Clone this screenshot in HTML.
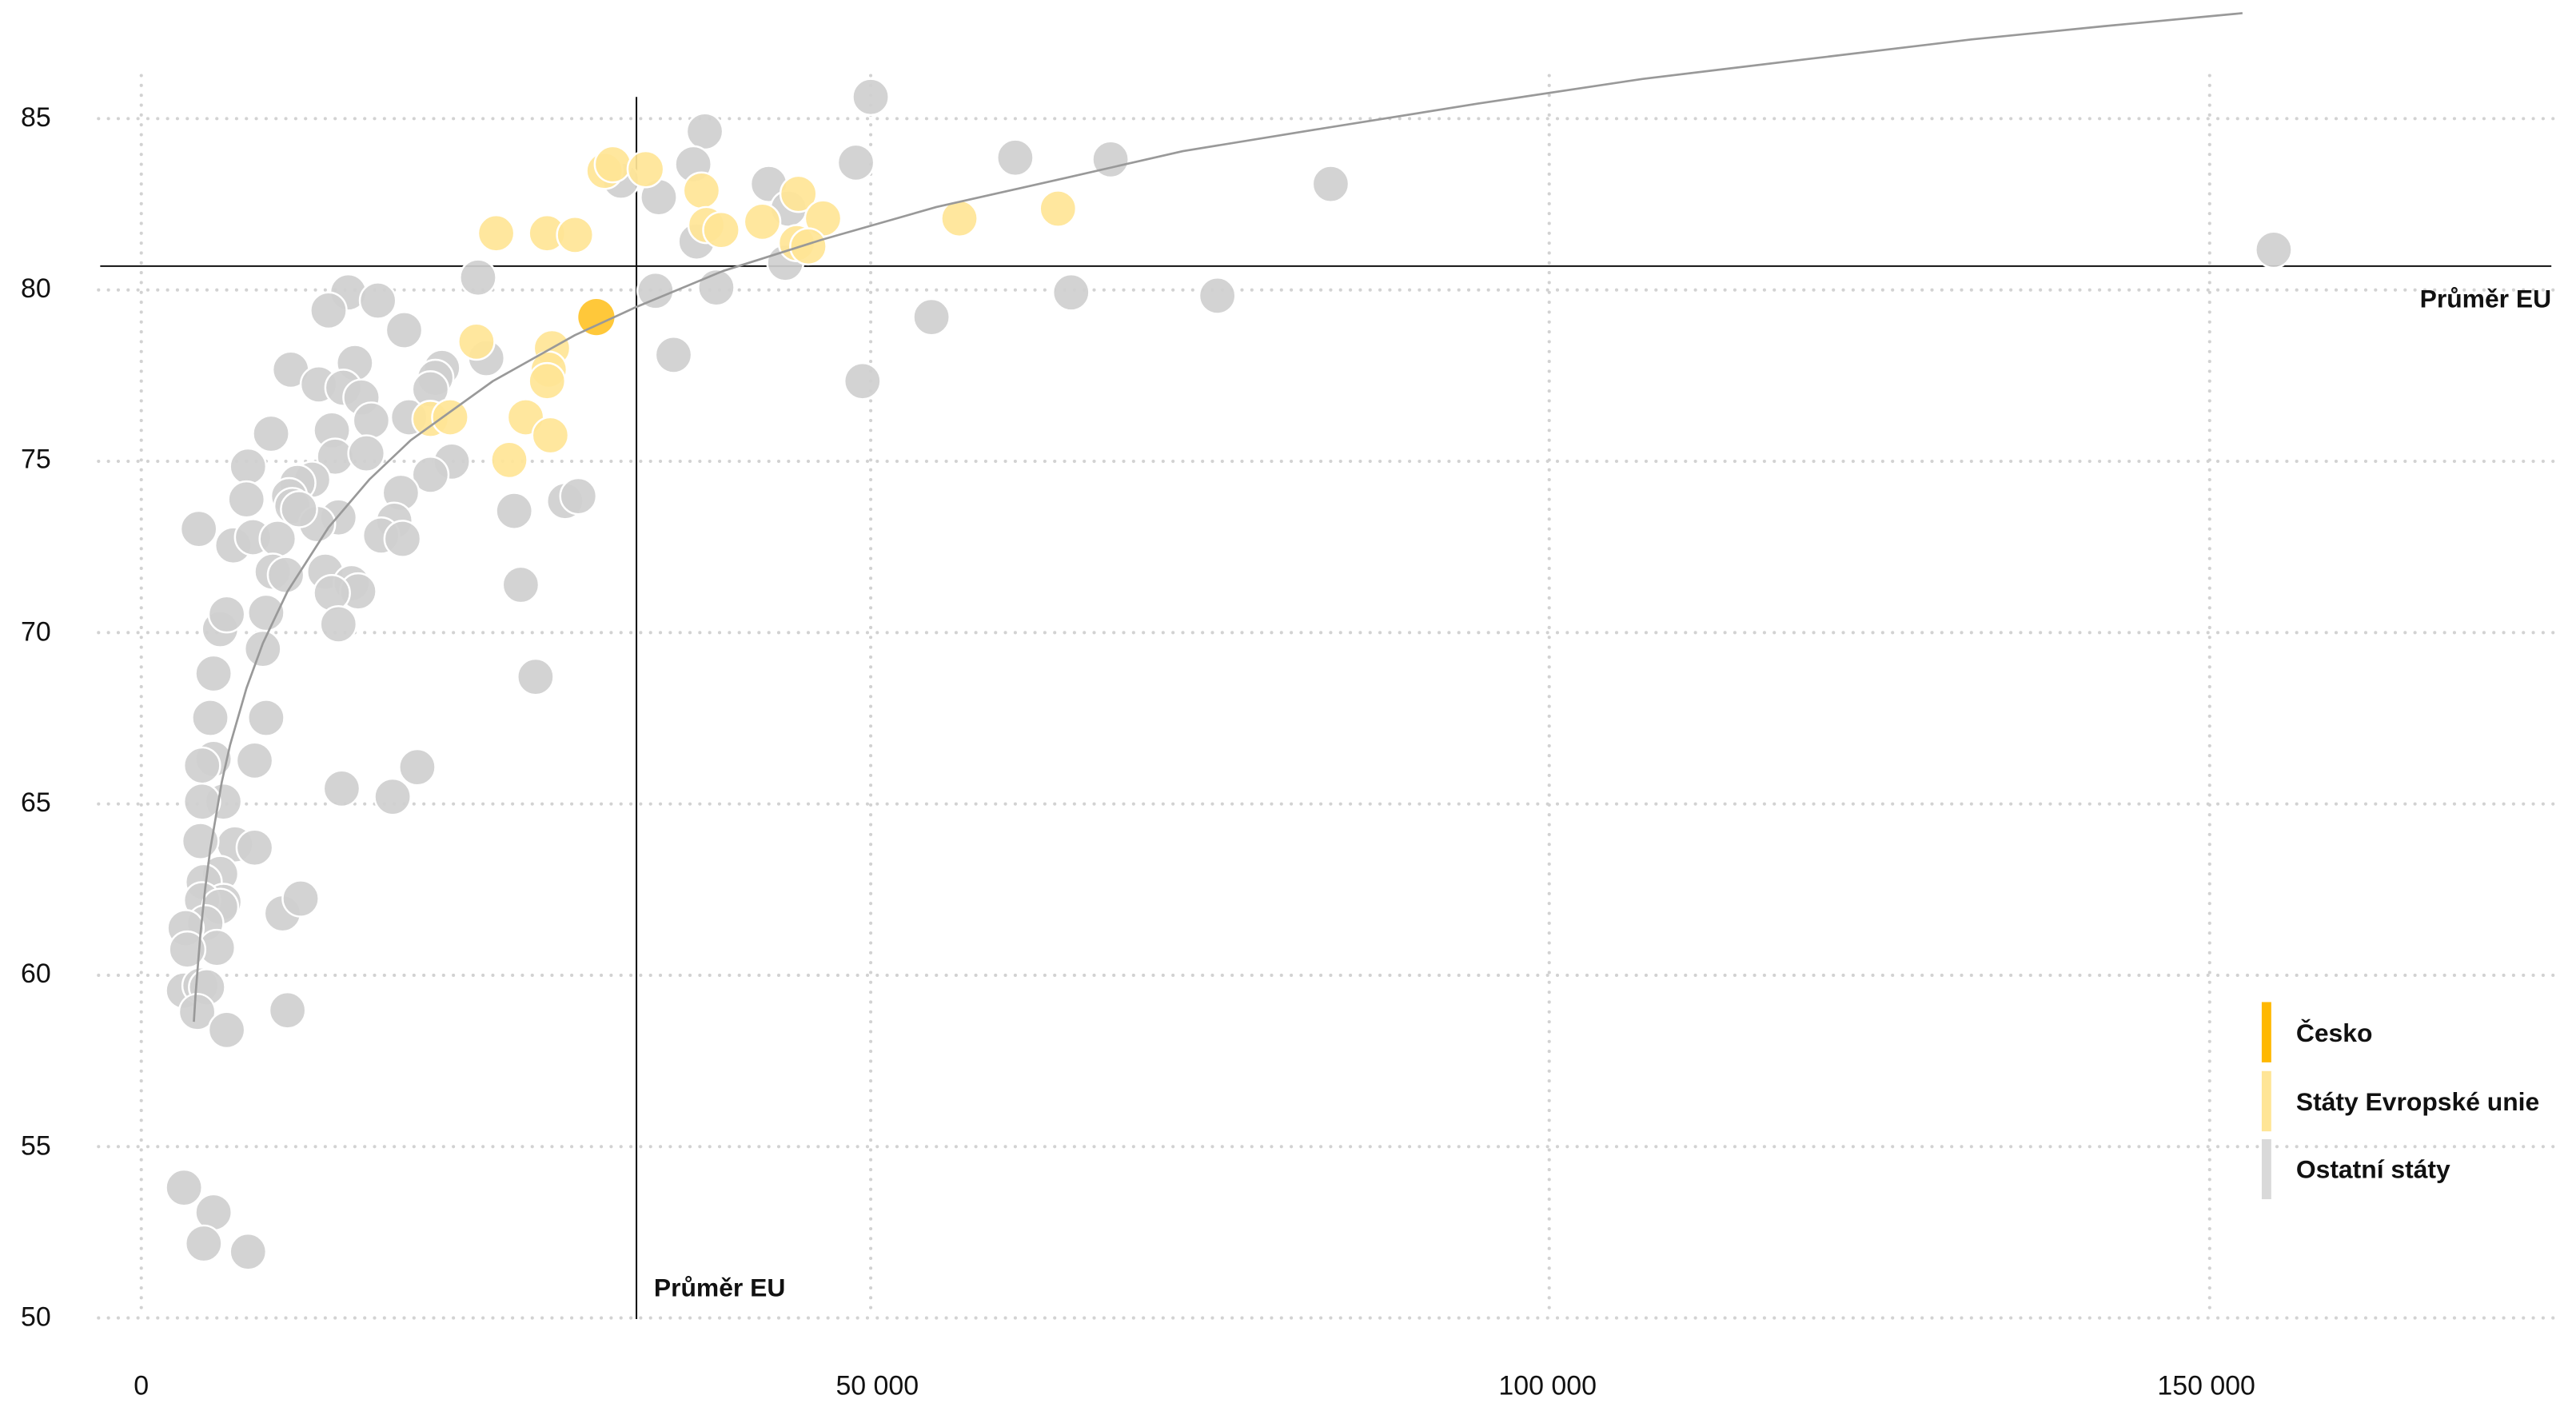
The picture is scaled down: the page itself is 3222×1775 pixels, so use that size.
<!DOCTYPE html>
<html><head><meta charset="utf-8"><style>
html,body{margin:0;padding:0;background:#fff;}
svg{display:block;}
text{font-family:"Liberation Sans",sans-serif;fill:#111;}
.t{font-size:16.5px;}
.b{font-size:15.5px;font-weight:bold;}
.g{fill:#cfcfcf;stroke:#fff;stroke-width:1.2;fill-opacity:0.92;}
.y{fill:#ffe596;stroke:#fff;stroke-width:1.2;fill-opacity:0.92;}
</style></head><body>
<svg width="3222" height="1775" viewBox="0 0 1568 863.8" xmlns="http://www.w3.org/2000/svg">
<g stroke="#d2d2d2" stroke-width="2" stroke-linecap="round" stroke-dasharray="0 6">
<line x1="60" y1="72.2" x2="1556" y2="72.2"/>
<line x1="60" y1="176.5" x2="1556" y2="176.5"/>
<line x1="60" y1="280.8" x2="1556" y2="280.8"/>
<line x1="60" y1="385.1" x2="1556" y2="385.1"/>
<line x1="60" y1="489.4" x2="1556" y2="489.4"/>
<line x1="60" y1="593.7" x2="1556" y2="593.7"/>
<line x1="60" y1="698" x2="1556" y2="698"/>
<line x1="60" y1="802.3" x2="1556" y2="802.3"/>
<line x1="86" y1="46" x2="86" y2="802"/>
<line x1="530" y1="46" x2="530" y2="802"/>
<line x1="943" y1="46" x2="943" y2="802"/>
<line x1="1345" y1="46" x2="1345" y2="802"/>
</g>
<g class="t" text-anchor="end">
<text x="31" y="77">85</text><text x="31" y="181">80</text><text x="31" y="285">75</text><text x="31" y="390">70</text>
<text x="31" y="494">65</text><text x="31" y="598">60</text><text x="31" y="703">55</text><text x="31" y="807">50</text>
</g>
<g class="t" text-anchor="middle">
<text x="86" y="849">0</text><text x="534" y="849">50 000</text><text x="942" y="849">100 000</text><text x="1343" y="849">150 000</text>
</g>
<line x1="61" y1="162" x2="1553" y2="162" stroke="#111" stroke-width="1"/>
<line x1="387.4" y1="59" x2="387.4" y2="803" stroke="#111" stroke-width="1"/>
<text class="b" x="398" y="789">Průměr EU</text>
<text class="b" x="1553" y="187" text-anchor="end">Průměr EU</text>
<g>
<circle class="g" cx="530" cy="59" r="11"/><circle class="g" cx="429" cy="80" r="11"/><circle class="g" cx="422" cy="100" r="11"/><circle class="g" cx="378" cy="110" r="11"/><circle class="g" cx="401" cy="120" r="11"/><circle class="g" cx="468" cy="112" r="11"/><circle class="g" cx="480" cy="127" r="11"/><circle class="g" cx="521" cy="99" r="11"/><circle class="g" cx="618" cy="96" r="11"/><circle class="g" cx="676" cy="97" r="11"/><circle class="g" cx="810" cy="112" r="11"/><circle class="g" cx="1384" cy="152" r="11"/><circle class="g" cx="424" cy="147" r="11"/><circle class="g" cx="399" cy="177" r="11"/><circle class="g" cx="436" cy="175" r="11"/><circle class="g" cx="478" cy="160" r="11"/><circle class="g" cx="567" cy="193" r="11"/><circle class="g" cx="652" cy="178" r="11"/><circle class="g" cx="741" cy="180" r="11"/><circle class="g" cx="410" cy="216" r="11"/><circle class="g" cx="525" cy="232" r="11"/><circle class="g" cx="291" cy="169" r="11"/><circle class="g" cx="212" cy="178" r="11"/><circle class="g" cx="230" cy="183" r="11"/><circle class="g" cx="200" cy="189" r="11"/><circle class="g" cx="246" cy="201" r="11"/><circle class="g" cx="296" cy="218" r="11"/><circle class="g" cx="269" cy="224" r="11"/><circle class="g" cx="265" cy="230" r="11"/><circle class="g" cx="249" cy="254" r="11"/><circle class="g" cx="177" cy="225" r="11"/><circle class="g" cx="194" cy="234" r="11"/><circle class="g" cx="216" cy="221" r="11"/><circle class="g" cx="209" cy="236" r="11"/><circle class="g" cx="220" cy="242" r="11"/><circle class="g" cx="226" cy="256" r="11"/><circle class="g" cx="202" cy="262" r="11"/><circle class="g" cx="204" cy="278" r="11"/><circle class="g" cx="223" cy="276" r="11"/><circle class="g" cx="262" cy="237" r="11"/><circle class="g" cx="275" cy="281" r="11"/><circle class="g" cx="262" cy="289" r="11"/><circle class="g" cx="165" cy="264" r="11"/><circle class="g" cx="151" cy="284" r="11"/><circle class="g" cx="190" cy="292" r="11"/><circle class="g" cx="181" cy="294" r="11"/><circle class="g" cx="176" cy="302" r="11"/><circle class="g" cx="150" cy="304" r="11"/><circle class="g" cx="244" cy="300" r="11"/><circle class="g" cx="178" cy="308" r="11"/><circle class="g" cx="206" cy="315" r="11"/><circle class="g" cx="240" cy="317" r="11"/><circle class="g" cx="232" cy="326" r="11"/><circle class="g" cx="245" cy="328" r="11"/><circle class="g" cx="313" cy="311" r="11"/><circle class="g" cx="344" cy="305" r="11"/><circle class="g" cx="352" cy="302" r="11"/><circle class="g" cx="317" cy="356" r="11"/><circle class="g" cx="326" cy="412" r="11"/><circle class="g" cx="121" cy="322" r="11"/><circle class="g" cx="142" cy="332" r="11"/><circle class="g" cx="154" cy="327" r="11"/><circle class="g" cx="169" cy="328" r="11"/><circle class="g" cx="193" cy="319" r="11"/><circle class="g" cx="182" cy="310" r="11"/><circle class="g" cx="166" cy="348" r="11"/><circle class="g" cx="174" cy="350" r="11"/><circle class="g" cx="198" cy="348" r="11"/><circle class="g" cx="214" cy="355" r="11"/><circle class="g" cx="218" cy="360" r="11"/><circle class="g" cx="202" cy="361" r="11"/><circle class="g" cx="206" cy="380" r="11"/><circle class="g" cx="134" cy="383" r="11"/><circle class="g" cx="138" cy="374" r="11"/><circle class="g" cx="162" cy="373" r="11"/><circle class="g" cx="160" cy="395" r="11"/><circle class="g" cx="130" cy="410" r="11"/><circle class="g" cx="128" cy="437" r="11"/><circle class="g" cx="162" cy="437" r="11"/><circle class="g" cx="155" cy="463" r="11"/><circle class="g" cx="208" cy="480" r="11"/><circle class="g" cx="239" cy="485" r="11"/><circle class="g" cx="254" cy="467" r="11"/><circle class="g" cx="130" cy="462" r="11"/><circle class="g" cx="123" cy="466" r="11"/><circle class="g" cx="136" cy="488" r="11"/><circle class="g" cx="123" cy="488" r="11"/><circle class="g" cx="143" cy="514" r="11"/><circle class="g" cx="155" cy="516" r="11"/><circle class="g" cx="122" cy="512" r="11"/><circle class="g" cx="134" cy="532" r="11"/><circle class="g" cx="124" cy="537" r="11"/><circle class="g" cx="136" cy="549" r="11"/><circle class="g" cx="123" cy="548" r="11"/><circle class="g" cx="134" cy="552" r="11"/><circle class="g" cx="125" cy="562" r="11"/><circle class="g" cx="113" cy="565" r="11"/><circle class="g" cx="132" cy="577" r="11"/><circle class="g" cx="114" cy="578" r="11"/><circle class="g" cx="112" cy="603" r="11"/><circle class="g" cx="122" cy="600" r="11"/><circle class="g" cx="126" cy="601" r="11"/><circle class="g" cx="120" cy="616" r="11"/><circle class="g" cx="138" cy="627" r="11"/><circle class="g" cx="175" cy="615" r="11"/><circle class="g" cx="172" cy="556" r="11"/><circle class="g" cx="183" cy="547" r="11"/><circle class="g" cx="112" cy="723" r="11"/><circle class="g" cx="130" cy="738" r="11"/><circle class="g" cx="124" cy="757" r="11"/><circle class="g" cx="151" cy="762" r="11"/>
</g>
<g>
<circle class="y" cx="368" cy="104" r="11"/><circle class="y" cx="373" cy="100" r="11"/><circle class="y" cx="393" cy="103" r="11"/><circle class="y" cx="427" cy="116" r="11"/><circle class="y" cx="302" cy="142" r="11"/><circle class="y" cx="333" cy="142" r="11"/><circle class="y" cx="350" cy="143" r="11"/><circle class="y" cx="430" cy="137" r="11"/><circle class="y" cx="439" cy="140" r="11"/><circle class="y" cx="464" cy="135" r="11"/><circle class="y" cx="486" cy="118" r="11"/><circle class="y" cx="501" cy="133" r="11"/><circle class="y" cx="485" cy="148" r="11"/><circle class="y" cx="492" cy="150" r="11"/><circle class="y" cx="584" cy="133" r="11"/><circle class="y" cx="644" cy="127" r="11"/><circle class="y" cx="290" cy="208" r="11"/><circle class="y" cx="336" cy="212" r="11"/><circle class="y" cx="334" cy="225" r="11"/><circle class="y" cx="333" cy="232" r="11"/><circle class="y" cx="320" cy="254" r="11"/><circle class="y" cx="335" cy="265" r="11"/><circle class="y" cx="310" cy="280" r="11"/><circle class="y" cx="262" cy="255" r="11"/><circle class="y" cx="274" cy="254" r="11"/>
<circle cx="363" cy="193" r="11" fill="#ffc83a"/>
</g>
<polyline fill="none" stroke="#999" stroke-width="1.3" stroke-linejoin="round" points="118,622 119,606 122,568.5 125,540 128,517 135,476 140,453.7 150,419 160,391.6 175,360 200,321 225,291.7 250,268 300,232 350,204 387,187 440,165 500,146 570,126 650,108 720,92 800,79 900,63 1000,48 1100,36 1200,24 1280,16 1365,8"/>
<rect x="1376.7" y="610" width="5.8" height="36.7" fill="#ffb800"/>
<rect x="1376.7" y="652" width="5.8" height="36.7" fill="#ffe596"/>
<rect x="1376.7" y="693.5" width="5.8" height="36.5" fill="#d9d9d9"/>
<text class="b" x="1397.6" y="634">Česko</text>
<text class="b" x="1397.6" y="676">Státy Evropské unie</text>
<text class="b" x="1397.6" y="717">Ostatní státy</text>
</svg>
</body></html>
